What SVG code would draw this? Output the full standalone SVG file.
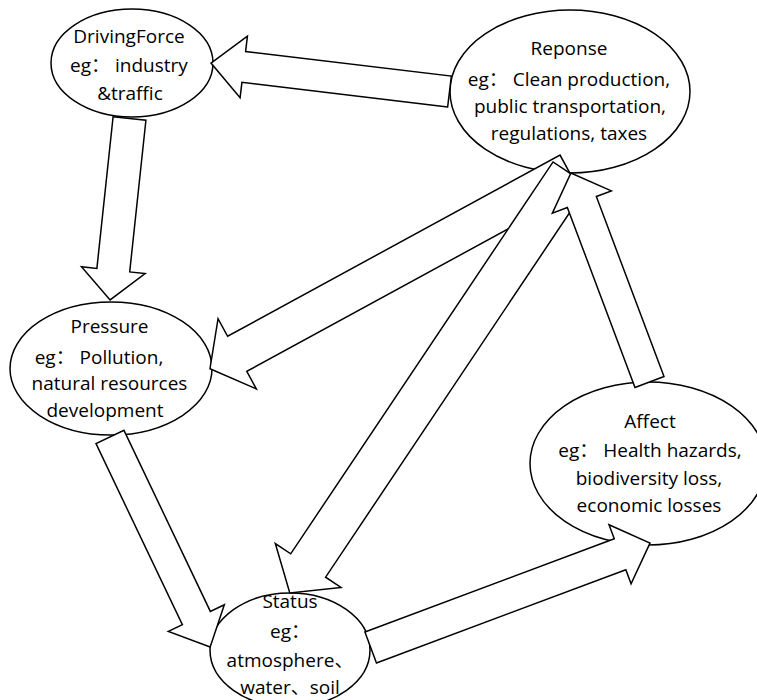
<svg xmlns="http://www.w3.org/2000/svg" width="757" height="700" viewBox="0 0 757 700">
<style>
.node{fill:#fff;stroke:#000;stroke-width:1.5}
.arr{fill:#fff;stroke:#000;stroke-width:1.5;stroke-linejoin:miter}
text{font-family:"Open Sans","Noto Sans CJK SC",sans-serif;font-size:19px;fill:#000;text-anchor:middle}
</style>
<rect width="757" height="700" fill="#fff"/>
<g id="driving-force">
<ellipse class="node" cx="132" cy="63" rx="81" ry="54"/>
<text x="129" y="43">DrivingForce</text>
<text x="129" y="72">eg： industry</text>
<text x="130" y="100">&amp;traffic</text>
</g>
<g id="response">
<ellipse class="node" cx="570" cy="91.5" rx="120" ry="81.5"/>
<text x="569" y="55">Reponse</text>
<text x="569" y="86">eg： Clean production,</text>
<text x="570" y="113">public transportation,</text>
<text x="569" y="140">regulations, taxes</text>
</g>
<g id="pressure">
<ellipse class="node" cx="111" cy="368.5" rx="101" ry="66.5"/>
<text x="109.5" y="333">Pressure</text>
<text x="99" y="364">eg： Pollution,</text>
<text x="109.5" y="390">natural resources</text>
<text x="105" y="417">development</text>
</g>
<g id="affect">
<ellipse class="node" cx="648" cy="463.5" rx="118" ry="81.5"/>
<text x="650" y="428">Affect</text>
<text x="650" y="457">eg： Health hazards,</text>
<text x="649" y="485">biodiversity loss,</text>
<text x="649" y="512">economic losses</text>
</g>
<g id="status">
<ellipse class="node" cx="290" cy="650" rx="80" ry="57"/>
<text x="290" y="608">Status</text>
<text x="290" y="638">eg：</text>
<text x="290" y="667">atmosphere、</text>
<text x="290" y="694">water、soil</text>
</g>
<g id="connectors">
<polygon class="arr" transform="translate(449.5,91.5) rotate(186.8)" points="0,-15.5 207.2,-15.5 207.2,-31 240.2,0 207.2,31 207.2,15.5 0,15.5"/>
<polygon class="arr" transform="translate(129.5,118.5) rotate(96.1)" points="0,-16.5 152.5,-16.5 152.5,-32 182.5,0 152.5,32 152.5,16.5 0,16.5"/>
<polygon class="arr" transform="translate(569.6,172.6) rotate(151.4)" points="0,-20 378.6,-20 378.6,-40 409.6,0 378.6,40 378.6,20 0,20"/>
<polygon class="arr" transform="translate(570.5,173.6) rotate(123.8)" points="0,-21 471.6,-21 471.6,-39.5 504.6,0 471.6,39.5 471.6,21 0,21"/>
<polygon class="arr" transform="translate(649.5,382) rotate(-110.6)" points="0,-15.5 192.3,-15.5 192.3,-31.5 223.3,0 192.3,31.5 192.3,15.5 0,15.5"/>
<polygon class="arr" transform="translate(110,437) rotate(64.5)" points="0,-15.5 200.6,-15.5 200.6,-31 232.6,0 200.6,31 200.6,15.5 0,15.5"/>
<polygon class="arr" transform="translate(370.7,647.5) rotate(-20.5)" points="0,-16.5 266.2,-16.5 266.2,-31.5 298.2,0 266.2,31.5 266.2,16.5 0,16.5"/>
</g>
</svg>
